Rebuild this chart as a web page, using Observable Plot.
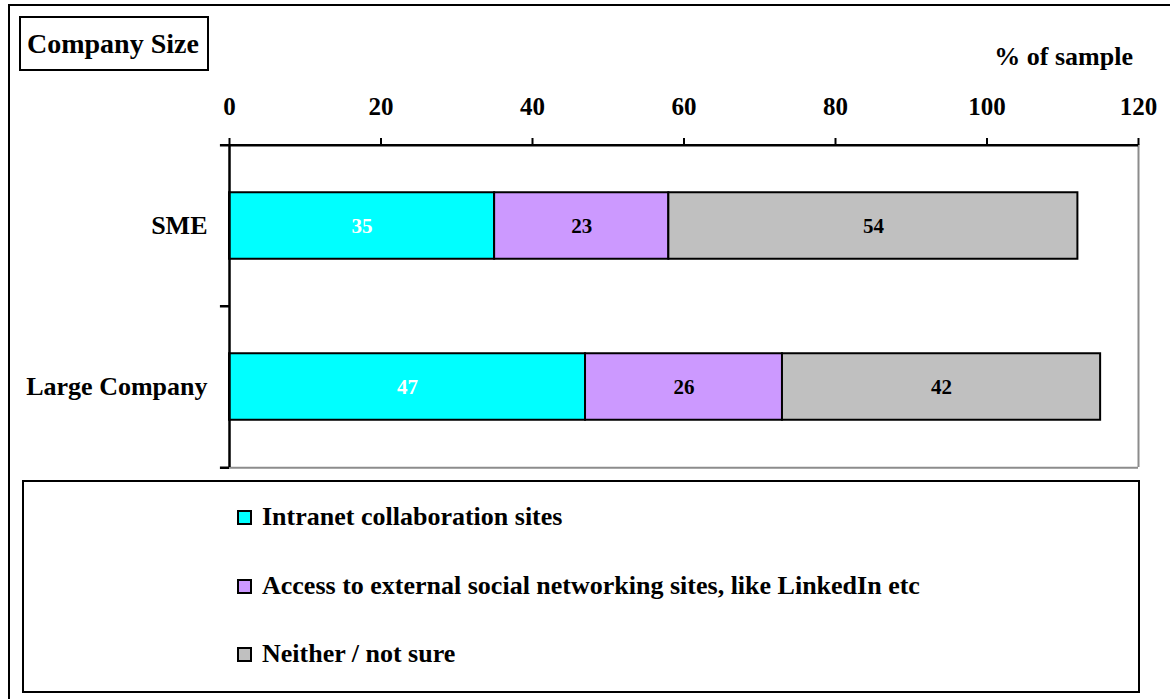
<!DOCTYPE html>
<html>
<head>
<meta charset="utf-8">
<script src="https://cdn.jsdelivr.net/npm/d3@7"></script>
<script src="https://cdn.jsdelivr.net/npm/@observablehq/plot@0.6"></script>
<style>
  html, body { margin: 0; padding: 0; background: white; overflow: hidden; width: 1170px; height: 699px; }
  body { position: relative; font-family: "Liberation Serif", "Times New Roman", serif; font-weight: bold; color: black; }
  #outer { position: absolute; left: 8px; top: 4px; width: 1300px; height: 900px; border: 2.5px solid black; box-sizing: border-box; z-index: 0; }
  #title { position: absolute; left: 19px; top: 16px; width: 190px; height: 55px; border: 2.5px solid black; box-sizing: border-box; font-size: 28px; line-height: 52px; padding-left: 6px; z-index: 2; background: white; white-space: nowrap; }
  #unit { position: absolute; right: 37px; top: 42px; font-size: 26px; z-index: 2; }
  #chart { position: absolute; left: 0; top: 0; z-index: 1; }
  #chart svg text { font-family: "Liberation Serif", "Times New Roman", serif; font-weight: bold; }
  #legend { position: absolute; left: 22px; top: 480px; width: 1118px; height: 213px; border: 2.5px solid black; box-sizing: border-box; z-index: 2; background: white; }
  .item { position: absolute; left: 213px; font-size: 26px; display: flex; align-items: center; white-space: nowrap; }
  .sw { width: 15px; height: 15px; border: 2px solid black; box-sizing: border-box; margin-right: 10px; }
</style>
</head>
<body>
<div id="outer"></div>
<div id="title">Company Size</div>
<div id="unit">% of sample</div>
<div id="chart"></div>
<div id="legend"></div>
<script>
// Data
const sizes = ["SME", "Large Company"];
const seriesNames = [
  "Intranet collaboration sites",
  "Access to external social networking sites, like LinkedIn etc",
  "Neither / not sure"
];
const seriesColors = ["#00FFFF", "#CC99FF", "#C0C0C0"];
const smeValues = [35, 23, 54];
const largeValues = [47, 26, 42];
const xTicks = [0, 20, 40, 60, 80, 100, 120];

const rows = [];
seriesNames.forEach((s, i) => {
  rows.push({size: sizes[0], series: s, value: smeValues[i]});
  rows.push({size: sizes[1], series: s, value: largeValues[i]});
});

const W = 1170, H = 470;
const mTop = 144, mBottom = 3, mLeft = 229, mRight = 32;
const step = (H - mTop - mBottom) / sizes.length;
const barInset = (step - 67) / 2;
const font = {fontFamily: "Liberation Serif, Times New Roman, serif", fontWeight: "bold"};

const plot = Plot.plot({
  width: W,
  height: H,
  marginTop: mTop,
  marginBottom: mBottom,
  marginLeft: mLeft,
  marginRight: mRight,
  style: {background: "transparent", color: "black", overflow: "visible"},
  x: {domain: [0, 120]},
  y: {domain: sizes, padding: 0},
  color: {domain: seriesNames, range: seriesColors},
  marks: [
    Plot.barX(rows, Plot.stackX({
      x: "value", y: "size", fill: "series",
      stroke: "black", strokeWidth: 2,
      insetTop: barInset, insetBottom: barInset
    })),
    Plot.text(rows, Plot.stackX({
      x: "value", y: "size",
      text: d => d.series === seriesNames[0] ? String(d.value) : null,
      fill: "white", fontSize: 21, ...font
    })),
    Plot.text(rows, Plot.stackX({
      x: "value", y: "size",
      text: d => d.series !== seriesNames[0] ? String(d.value) : null,
      fill: "black", fontSize: 21, ...font
    })),
    // plot-area borders
    Plot.ruleX([120], {stroke: "#8c8c8c", strokeWidth: 2}),
    Plot.ruleY([sizes[sizes.length - 1]], {dy: step / 2, x1: 0, x2: 120, stroke: "#8c8c8c", strokeWidth: 2}),
    Plot.ruleY([sizes[0]], {dy: -step / 2, x1: 0, x2: 120, stroke: "black", strokeWidth: 2.5}),
    Plot.ruleX([0], {stroke: "black", strokeWidth: 2.5}),
    // category boundary ticks on the left
    Plot.ruleY(sizes, {dy: -step / 2, x1: -1.2, x2: 0, stroke: "black", strokeWidth: 2.5}),
    Plot.ruleY([sizes[sizes.length - 1]], {dy: step / 2, x1: -1.2, x2: 0, stroke: "black", strokeWidth: 2.5}),
    Plot.axisX({anchor: "top", ticks: xTicks, tickSize: 7, tickPadding: 23, strokeWidth: 2, label: null, fontSize: 25, ...font}),
    Plot.axisY({anchor: "left", tickSize: 0, tickPadding: 22, label: null, fontSize: 26, ...font})
  ]
});
document.getElementById("chart").appendChild(plot);

// Legend
const legend = document.getElementById("legend");
const rowTops = [37, 106, 174];
seriesNames.forEach((s, i) => {
  const it = document.createElement("div");
  it.className = "item";
  it.style.top = (rowTops[i] - 17) + "px";
  const sw = document.createElement("div");
  sw.className = "sw";
  sw.style.background = seriesColors[i];
  const tx = document.createElement("span");
  tx.textContent = s;
  it.appendChild(sw);
  it.appendChild(tx);
  legend.appendChild(it);
});
</script>
</body>
</html>
